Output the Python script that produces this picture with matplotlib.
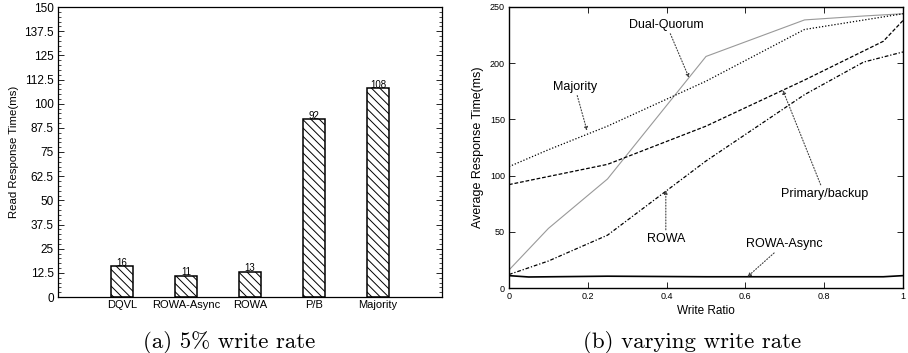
import matplotlib
matplotlib.use("Agg")
import matplotlib.pyplot as plt
from matplotlib.ticker import MultipleLocator, FixedLocator

plt.rcParams['font.family'] = ['Liberation Sans', 'DejaVu Sans']
plt.rcParams['hatch.linewidth'] = 0.7

# ---- data: (a) bar chart ----
categories = ["DQVL", "ROWA-Async", "ROWA", "P/B", "Majority"]
read_times = [16, 11, 13, 92, 108]
bar_labels = ["16", "11", "13", "92", "108"]
yticks_a = [0, 12.5, 25, 37.5, 50, 62.5, 75, 87.5, 100, 112.5, 125, 137.5, 150]
yticklabels_a = ["0", "12.5", "25", "37.5", "50", "62.5", "75", "87.5", "100",
                 "112.5", "125", "137.5", "150"]

# ---- data: (b) line chart ----
dq_x = [0, 0.1, 0.25, 0.5, 0.75, 0.9, 1.0]
dq_y = [16, 53, 97, 206, 238.5, 242, 244]
maj_x = [0, 0.1, 0.25, 0.5, 0.75, 1.0]
maj_y = [108, 123, 144, 184, 230, 244]
pb_x = [0, 0.25, 0.5, 0.75, 0.95, 1.0]
pb_y = [92, 110, 144, 185, 219.5, 238]
rowa_x = [0, 0.1, 0.25, 0.5, 0.75, 0.9, 1.0]
rowa_y = [12, 24, 47, 113, 172, 201, 210]
ra_x = [0, 0.05, 0.25, 0.5, 0.75, 0.95, 1.0]
ra_y = [11, 9.8, 10.5, 10, 10, 10, 11]

fig = plt.figure(figsize=(9.08, 3.53), dpi=100)

# ---------------- (a) ----------------
ax1 = fig.add_axes([58/908, 1-297/353, 384/908, 290/353])
xpos = list(range(1, len(categories)+1))
bars = ax1.bar(xpos, read_times, width=0.34, color='white', edgecolor='black',
               linewidth=1.1, hatch='\\\\\\\\')
for x, v, lab in zip(xpos, read_times, bar_labels):
    ax1.text(x, v - 0.8, lab, ha='center', va='bottom', fontsize=7)
ax1.set_xlim(0, 6)
ax1.set_ylim(0, 150)
ax1.set_xticks(xpos)
ax1.set_xticklabels(categories, fontsize=8)
ax1.set_yticks(yticks_a)
ax1.set_yticklabels(yticklabels_a, fontsize=8.5)
ax1.yaxis.set_minor_locator(MultipleLocator(2.5))
ax1.tick_params(axis='y', which='both', direction='in', left=True, right=True, pad=3)
ax1.tick_params(axis='y', which='major', length=4, width=0.6)
ax1.tick_params(axis='y', which='minor', length=2, width=0.5)
ax1.tick_params(axis='x', length=0, pad=2)
ax1.set_ylabel("Read Response Time(ms)", fontsize=8.2, labelpad=4)
for s in ax1.spines.values():
    s.set_linewidth(0.9)

# ---------------- (b) ----------------
ax2 = fig.add_axes([509/908, 1-288/353, 394/908, 281/353])
ax2.plot(dq_x, dq_y, color='0.6', lw=0.8, ls='-')
ax2.plot(maj_x, maj_y, color='black', lw=0.9, ls=(0, (1, 1.5)))
ax2.plot(pb_x, pb_y, color='black', lw=0.9, ls=(0, (3, 1.5)))
ax2.plot(rowa_x, rowa_y, color='black', lw=0.9, ls=(0, (3, 1.5, 1, 1.5)))
ax2.plot(ra_x, ra_y, color='black', lw=1.2, ls='-')
ax2.set_xlim(0, 1)
ax2.set_ylim(0, 250)
ax2.xaxis.set_major_locator(FixedLocator([0, 0.2, 0.4, 0.6, 0.8, 1.0]))
ax2.set_xticklabels(["0", "0.2", "0.4", "0.6", "0.8", "1"], fontsize=6.5)
ax2.yaxis.set_major_locator(FixedLocator([0, 50, 100, 150, 200, 250]))
ax2.set_yticklabels(["0", "50", "100", "150", "200", "250"], fontsize=6.5)
ax2.tick_params(direction='in', top=True, right=True, length=4, width=0.6, pad=3)
ax2.set_xlabel("Write Ratio", fontsize=8.5, labelpad=3)
ax2.set_ylabel("Average Response Time(ms)", fontsize=9, labelpad=4)
for s in ax2.spines.values():
    s.set_linewidth(1.0)

arrow = dict(arrowstyle='-|>', linestyle=':', lw=0.8, color='0.25',
             mutation_scale=5, shrinkA=0, shrinkB=0)
ann_fs = 9
ax2.annotate("Dual-Quorum", xy=(0.457, 187), xytext=(0.40, 234), fontsize=ann_fs,
             ha='center', va='center', arrowprops=arrow)
ax2.annotate("Majority", xy=(0.198, 140), xytext=(0.167, 179), fontsize=ann_fs,
             ha='center', va='center', arrowprops=arrow)
ax2.annotate("Primary/backup", xy=(0.695, 176), xytext=(0.8, 84), fontsize=ann_fs,
             ha='center', va='center', arrowprops=arrow)
ax2.annotate("ROWA", xy=(0.398, 87), xytext=(0.398, 44), fontsize=ann_fs,
             ha='center', va='center', arrowprops=arrow)
ax2.annotate("ROWA-Async", xy=(0.605, 10), xytext=(0.698, 39), fontsize=ann_fs,
             ha='center', va='center', arrowprops=arrow)

# captions
fig.text(229/908, 1-342/353, "(a) 5% write rate", family='cmr10', fontsize=16.5,
         ha='center', va='center')
fig.text(692/908, 1-342/353, "(b) varying write rate", family='cmr10', fontsize=16.5,
         ha='center', va='center')

fig.savefig("out.png", dpi=100)
